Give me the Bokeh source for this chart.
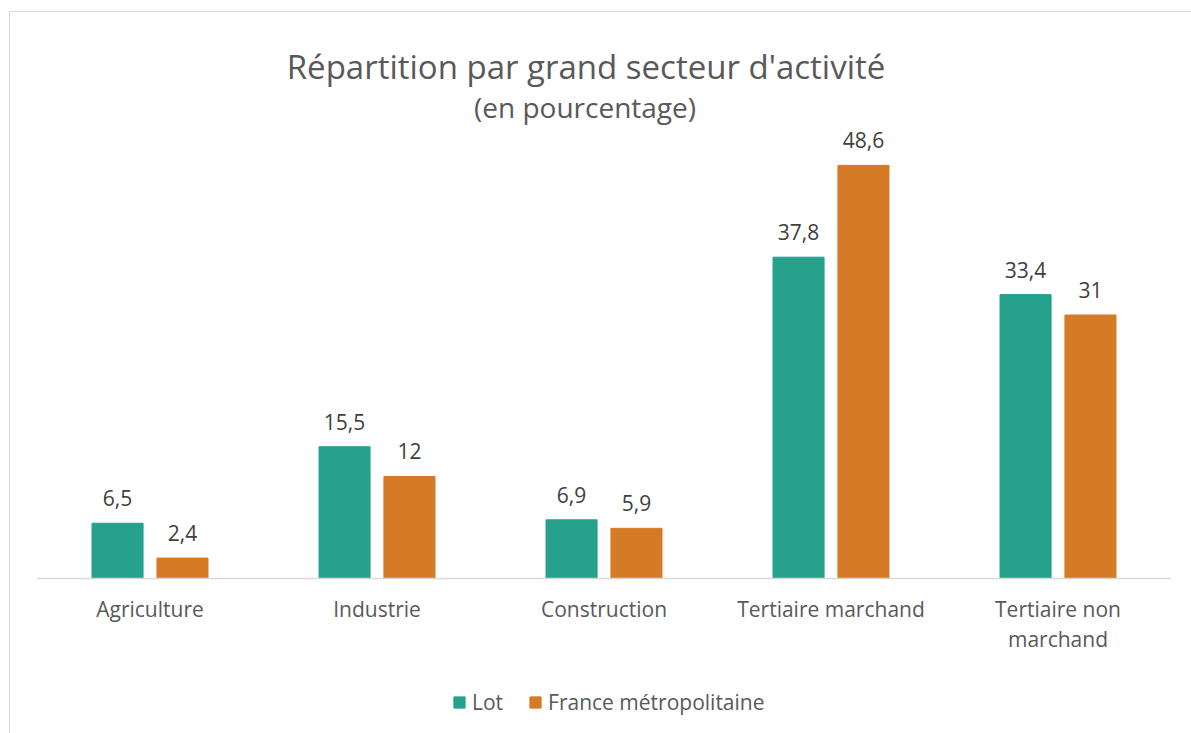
from bokeh.plotting import figure
from bokeh.models import (ColumnDataSource, FactorRange, Range1d, LabelSet, Legend,
                          LegendItem, Label, Span)
from bokeh.core.properties import value
from bokeh.transform import dodge
from bokeh.embed import file_html
from bokeh.resources import INLINE

categories = ["Agriculture", "Industrie", "Construction", "Tertiaire marchand",
              "Tertiaire non marchand"]
category_line1 = ["Agriculture", "Industrie", "Construction", "Tertiaire marchand",
                  "Tertiaire non"]
category_line2 = ["", "", "", "", "marchand"]
lot = [6.5, 15.5, 6.9, 37.8, 33.4]
france = [2.4, 12, 5.9, 48.6, 31]
lot_labels = ["6,5", "15,5", "6,9", "37,8", "33,4"]
france_labels = ["2,4", "12", "5,9", "48,6", "31"]
series_names = ["Lot", "France métropolitaine"]
title_text = "Répartition par grand secteur d'activité"
subtitle_text = "(en pourcentage)"

TEAL = "#26a18b"
ORANGE = "#d57b27"
FONT = "Open Sans"

src = ColumnDataSource(dict(cat=categories, l1=category_line1, l2=category_line2,
                            zero=[0] * 5, lot=lot, france=france,
                            lot_lab=lot_labels, fr_lab=france_labels))

p = figure(frame_width=1135, frame_height=721, output_backend="svg",
           toolbar_location=None,
           x_range=FactorRange(*categories), y_range=Range1d(-18.24, 66.59),
           x_axis_location=None, y_axis_location=None,
           min_border_left=26, min_border_right=20,
           min_border_top=0, min_border_bottom=0)
p.title = None
p.outline_line_color = None
p.grid.visible = False
p.background_fill_color = "white"
p.border_fill_color = "white"
p.styles = {"margin-left": "9px", "margin-top": "11px",
            "border-left": "1px solid #d9d9d9", "border-top": "1px solid #d9d9d9"}

r1 = p.vbar(x=dodge("cat", -0.143, range=p.x_range), top="lot", width=0.225,
            source=src, fill_color=TEAL, line_color=TEAL)
r2 = p.vbar(x=dodge("cat", 0.143, range=p.x_range), top="france", width=0.225,
            source=src, fill_color=ORANGE, line_color=ORANGE)

# category axis baseline
p.add_layout(Span(location=0, dimension="width", line_color="#d9d9d9", line_width=1.5))

for col, lab, off in (("lot", "lot_lab", -0.143), ("france", "fr_lab", 0.143)):
    p.add_layout(LabelSet(x=dodge("cat", off, range=p.x_range), y=col, text=lab,
                          source=src, text_align="center", text_baseline="bottom",
                          y_offset=17, text_font=value(FONT), text_font_size="21px",
                          text_color="#404040"))

# category labels (two lines for the long one)
for lab, off in (("l1", -31), ("l2", -61)):
    p.add_layout(LabelSet(x="cat", y="zero", text=lab, source=src,
                          text_align="center", text_baseline="middle", y_offset=off,
                          text_font=value(FONT), text_font_size="21px",
                          text_color="#595959"))

# titles (centred over the chart area)
p.add_layout(Label(x=2.5, y=60.2, x_offset=-18, text=title_text, text_align="center",
                   text_baseline="middle", text_font=FONT,
                   text_font_size="33px", text_color="#595959"))
p.add_layout(Label(x=2.5, y=55.5, x_offset=-19, text=subtitle_text, text_align="center",
                   text_baseline="middle", text_font=FONT,
                   text_font_size="28px", text_color="#595959"))

legend = Legend(items=[LegendItem(label=series_names[0], renderers=[r1]),
                       LegendItem(label=series_names[1], renderers=[r2])],
                orientation="horizontal", location=(416, 17),
                glyph_width=14, glyph_height=14, label_standoff=6, spacing=25,
                label_text_font=FONT, label_text_font_size="21px",
                label_text_color="#595959", border_line_color=None,
                background_fill_alpha=0, margin=0, padding=0)
p.add_layout(legend)

open("out.html", "w").write(file_html(p, INLINE))
